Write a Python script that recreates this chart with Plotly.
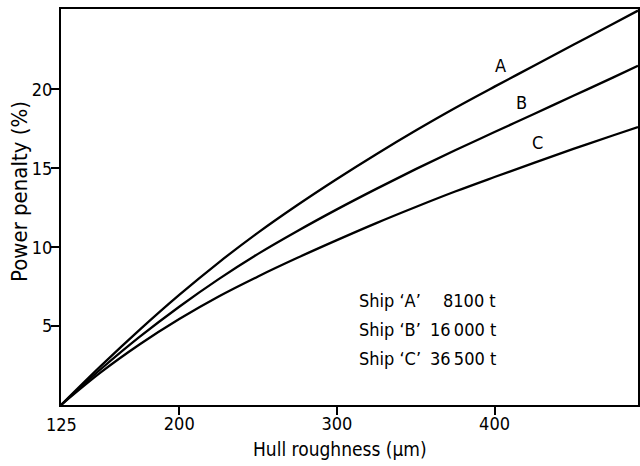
import plotly.graph_objects as go

# Data
roughness = [125, 150, 175, 200, 225, 250, 275, 300, 325, 350, 375, 400, 425, 450, 475, 491]
ship_a = [0, 2.45, 4.78, 6.98, 9.03, 10.93, 12.68, 14.33, 15.9, 17.4, 18.83, 20.18, 21.5, 22.83, 24.15, 25.0]
ship_b = [0, 2.25, 4.33, 6.23, 7.98, 9.58, 11.03, 12.4, 13.7, 14.95, 16.15, 17.3, 18.45, 19.6, 20.75, 21.5]
ship_c = [0, 2.05, 3.85, 5.45, 6.88, 8.15, 9.33, 10.45, 11.53, 12.55, 13.53, 14.45, 15.35, 16.23, 17.08, 17.62]
x_ticks = [125, 200, 300, 400]
y_ticks = [5, 10, 15, 20]
ship_names = ["Ship \u2018A\u2019", "Ship \u2018B\u2019", "Ship \u2018C\u2019"]
ship_tonnage = ["8100 t", "16\u2009000 t", "36\u2009500 t"]

FONT = "DejaVu Sans Condensed, DejaVu Sans, sans-serif"

W, H = 640, 466
L, R, T, B = 61, 2, 9, 61
pw, ph = W - L - R, H - T - B


def px(x, y):
    return (x - L) / pw, (H - B - y) / ph


def ann(x, y, text, size=18, xanchor="center", **kw):
    xp, yp = px(x, y)
    d = dict(x=xp, y=yp, xref="paper", yref="paper", text=text, showarrow=False,
             xanchor=xanchor, yanchor="middle", font=dict(family=FONT, size=size, color="black"))
    d.update(kw)
    return d


fig = go.Figure()
for name, ys in zip(["A", "B", "C"], [ship_a, ship_b, ship_c]):
    fig.add_trace(go.Scatter(x=roughness, y=ys, mode="lines", name=name,
                             line=dict(color="black", width=2.3, shape="spline", smoothing=1.0),
                             showlegend=False, hoverinfo="skip"))

annotations = []
for lab, (lx, ly) in zip(["A", "B", "C"], [(500, 65), (521, 102), (537, 143)]):
    annotations.append(ann(lx, ly, lab))
for i, (n, t) in enumerate(zip(ship_names, ship_tonnage)):
    yy = 300 + i * 29
    annotations.append(ann(357, yy, n, xanchor="left"))
    annotations.append(ann(498, yy, t, xanchor="right"))
# first x tick label (no tick mark at the origin in the reference)
a125 = ann(62, 424, str(x_ticks[0]))
a125["x"] = x_ticks[0]
a125["xref"] = "x"
annotations.append(a125)
annotations.append(ann(340, 449, "Hull roughness (\u03bcm)", size=19))
annotations.append(ann(19, 192, "Power penalty (%)", size=22, textangle=-90))

fig.update_layout(
    width=W, height=H,
    margin=dict(l=L, r=R, t=T, b=B, autoexpand=False),
    paper_bgcolor="white", plot_bgcolor="white",
    annotations=annotations,
    font=dict(family=FONT, size=18, color="black"),
)
fig.update_xaxes(range=[125, 491], tickvals=x_ticks[1:], ticktext=[str(v) for v in x_ticks[1:]],
                 ticks="outside", ticklen=8, tickwidth=1.5, tickcolor="black", ticklabelstandoff=-7,
                 showline=True, linecolor="black", linewidth=2, mirror=True,
                 showgrid=False, zeroline=False, tickfont=dict(family=FONT, size=18))
fig.update_yaxes(range=[0, 25.1], tickvals=y_ticks, ticktext=[str(v) for v in y_ticks],
                 ticks="outside", ticklen=8, tickwidth=1.5, tickcolor="black", ticklabelstandoff=-5,
                 showline=True, linecolor="black", linewidth=2, mirror=True,
                 showgrid=False, zeroline=False, tickfont=dict(family=FONT, size=18))

fig.write_html("out.html", config={"displayModeBar": False},
               post_script="document.body.style.margin='0';document.body.style.overflow='hidden';")
